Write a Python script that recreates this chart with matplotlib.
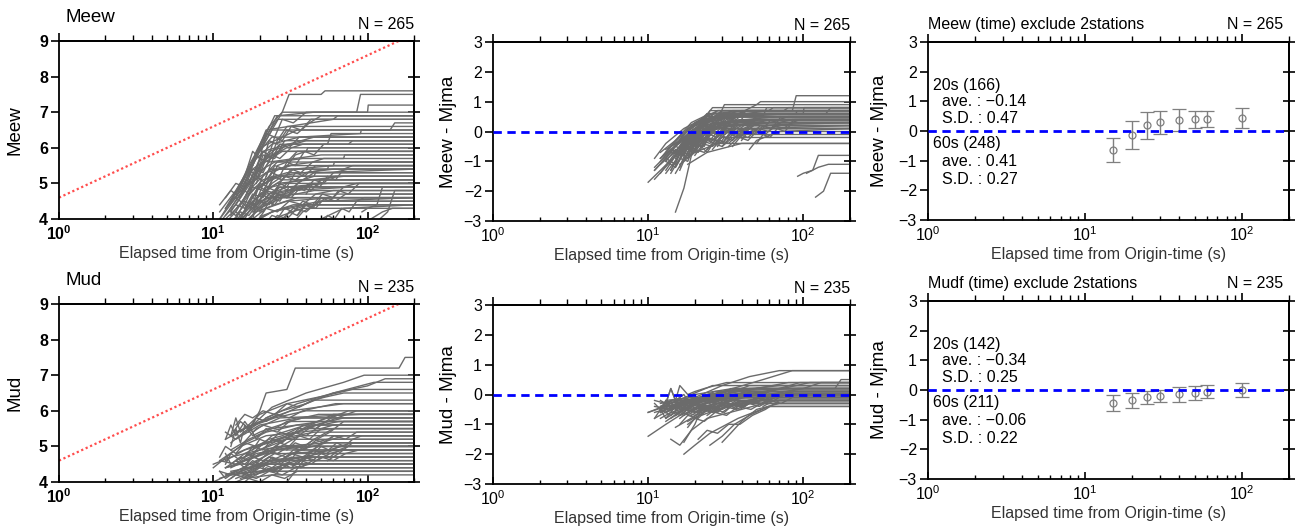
import math
import matplotlib
matplotlib.use('Agg')
import matplotlib.pyplot as plt
from matplotlib.ticker import MultipleLocator, NullFormatter, FuncFormatter

plt.rcParams['font.family'] = ['Liberation Sans', 'DejaVu Sans']
plt.rcParams['mathtext.fontset'] = 'custom'
plt.rcParams['mathtext.rm'] = 'Liberation Sans'
plt.rcParams['mathtext.bf'] = 'Liberation Sans:bold'

# red reference line on the magnitude panels
ref_t = [1, 200]
ref_m = [4.6, 9.2]

# Meew: Mjma of each event, elapsed times (s) and Meew values
meew_mjma = [6.6, 6.3, 6.3, 6.1, 6.0, 5.9, 5.8, 5.7, 5.6, 5.5,
             5.4, 5.4, 5.3, 5.2, 5.2, 5.1, 5.0, 5.0, 4.9, 4.9,
             4.8, 4.8, 4.7, 4.7, 4.6, 4.6, 4.5, 4.5, 4.4, 4.4,
             4.3, 4.3, 4.2, 4.2, 4.1, 4.0, 6.2, 5.6, 5.3, 4.9,
             4.6, 5.8, 5.1, 4.4, 4.3, 5.7, 6.2, 5.4, 5.0, 5.3,
             5.5, 5.2, 4.9, 5.8, 6.0, 4.7, 5.1, 4.5, 5.6, 5.3,
             4.8, 5.0, 4.6, 5.4, 6.4, 4.3, 4.4, 5.7, 4.9, 5.2,
             4.6, 5.0, 4.2, 5.9, 5.3, 4.8, 5.5, 6.1, 4.5, 5.1]
meew_t = [
    [20, 24, 28, 31, 50, 53, 200],
    [18, 22, 26, 45, 85, 90, 200],
    [16, 19, 23, 28, 200],
    [15, 18, 22, 60, 64, 200],
    [14, 17, 21, 26, 200],
    [17, 20, 24, 140, 150, 200],
    [13, 16, 20, 35, 200],
    [12, 15, 19, 24, 200],
    [19, 22, 27, 55, 58, 200],
    [16, 19, 23, 40, 200],
    [14, 18, 22, 30, 200],
    [22, 25, 30, 75, 80, 200],
    [11, 14, 18, 26, 200],
    [15, 18, 23, 50, 200],
    [13, 16, 20, 28, 200],
    [18, 21, 26, 38, 200],
    [12, 15, 19, 25, 200],
    [20, 24, 30, 45, 200],
    [14, 17, 22, 32, 200],
    [11, 13, 17, 24, 200],
    [16, 19, 25, 60, 200],
    [13, 16, 21, 30, 200],
    [17, 20, 26, 70, 200],
    [12, 15, 19, 27, 200],
    [15, 18, 24, 36, 200],
    [19, 23, 30, 55, 200],
    [14, 17, 22, 40, 200],
    [21, 25, 32, 80, 200],
    [16, 20, 26, 45, 200],
    [13, 16, 20, 28, 200],
    [18, 22, 30, 60, 200],
    [15, 19, 25, 35, 200],
    [17, 21, 28, 50, 200],
    [20, 24, 33, 200],
    [14, 18, 24, 40, 200],
    [23, 28, 38, 200],
    [15, 18, 21, 25, 200],
    [13, 17, 21, 45, 200],
    [15, 17, 19, 23, 200],
    [10, 12, 15, 20, 28, 200],
    [12, 14, 17, 22, 200],
    [11, 14, 18, 24, 36, 200],
    [30, 35, 45, 200],
    [33, 38, 50, 200],
    [45, 50, 70, 200],
    [92, 100, 115, 125, 200],
    [120, 135, 150, 200],
    [105, 125, 145, 200],
    [16, 20, 28, 200],
    [18, 24, 40, 200],
    [13, 15, 17, 19, 22, 25, 29, 34, 40, 41, 200],
    [12, 14, 16, 18, 21, 24, 28, 33, 60, 61, 200],
    [14, 16, 18, 20, 23, 27, 31, 38, 45, 46, 200],
    [15, 17, 19, 21, 24, 27, 31, 36, 90, 91, 200],
    [17, 19, 21, 23, 26, 30, 35, 42, 50, 200],
    [13, 15, 17, 20, 23, 26, 30, 36, 48, 49, 200],
    [16, 18, 20, 22, 25, 29, 34, 40, 55, 56, 200],
    [15, 17, 19, 22, 26, 31, 38, 46, 60, 200],
    [12, 14, 16, 18, 21, 24, 27, 32, 38, 200],
    [18, 20, 22, 25, 28, 32, 37, 44, 52, 70, 71, 200],
    [20, 22, 25, 28, 32, 37, 43, 50, 62, 200],
    [24, 27, 30, 34, 39, 45, 52, 60, 75, 200],
    [26, 29, 33, 38, 44, 51, 60, 70, 85, 200],
    [14, 16, 18, 20, 23, 26, 30, 35, 200],
    [16, 18, 20, 22, 25, 28, 33, 40, 100, 101, 200],
    [16, 18, 21, 24, 28, 33, 40, 48, 200],
    [28, 31, 35, 40, 46, 53, 62, 72, 200],
    [11, 13, 15, 17, 19, 22, 25, 29, 200],
    [17, 19, 21, 24, 27, 31, 36, 42, 200],
    [13, 15, 17, 19, 22, 26, 30, 200],
    [35, 39, 44, 50, 57, 65, 75, 88, 200],
    [40, 44, 49, 55, 62, 70, 80, 200],
    [50, 55, 61, 68, 76, 85, 95, 200],
    [14, 16, 18, 20, 23, 26, 30, 200],
    [20, 22, 24, 27, 30, 34, 39, 46, 200],
    [12, 14, 16, 18, 20, 23, 27, 200],
    [22, 24, 27, 30, 34, 39, 45, 52, 200],
    [19, 21, 23, 25, 28, 32, 37, 43, 200],
    [18, 20, 23, 26, 30, 35, 41, 200],
    [11, 12, 14, 16, 18, 21, 24, 28, 200],
]
meew_m = [
    [5.9, 6.5, 7.0, 7.5, 7.5, 7.6, 7.6],
    [5.5, 6.3, 6.9, 7.0, 7.0, 7.5, 7.5],
    [5.0, 5.9, 6.6, 7.0, 7.0],
    [4.9, 5.6, 6.5, 6.8, 6.9, 6.9],
    [4.7, 5.5, 6.2, 6.8, 6.8],
    [5.3, 5.9, 6.5, 6.5, 6.7, 6.7],
    [4.5, 5.2, 6.0, 6.5, 6.5],
    [4.3, 5.0, 5.8, 6.3, 6.3],
    [5.0, 5.7, 6.1, 6.1, 6.4, 6.4],
    [4.6, 5.3, 5.9, 6.2, 6.2],
    [4.4, 5.1, 5.7, 6.0, 6.0],
    [5.2, 5.8, 6.1, 6.1, 6.2, 6.2],
    [4.0, 4.6, 5.4, 5.9, 5.9],
    [4.4, 5.0, 5.6, 5.8, 5.8],
    [4.3, 4.9, 5.5, 5.9, 5.9],
    [4.6, 5.2, 5.6, 5.7, 5.7],
    [4.1, 4.7, 5.3, 5.6, 5.6],
    [4.9, 5.3, 5.5, 5.6, 5.6],
    [4.2, 4.8, 5.3, 5.5, 5.5],
    [4.0, 4.5, 5.0, 5.4, 5.4],
    [4.3, 4.8, 5.2, 5.4, 5.4],
    [4.1, 4.6, 5.1, 5.3, 5.3],
    [4.3, 4.7, 5.0, 5.2, 5.2],
    [4.0, 4.4, 4.9, 5.2, 5.2],
    [4.1, 4.5, 4.9, 5.1, 5.1],
    [4.3, 4.7, 4.9, 5.0, 5.0],
    [3.9, 4.3, 4.7, 4.9, 4.9],
    [4.4, 4.7, 4.8, 4.9, 4.9],
    [3.9, 4.3, 4.6, 4.8, 4.8],
    [3.8, 4.1, 4.5, 4.7, 4.7],
    [4.0, 4.3, 4.5, 4.6, 4.6],
    [3.8, 4.2, 4.4, 4.6, 4.6],
    [3.8, 4.1, 4.3, 4.5, 4.5],
    [4.0, 4.2, 4.4, 4.4],
    [3.6, 3.9, 4.2, 4.4, 4.4],
    [3.9, 4.1, 4.3, 4.3],
    [4.8, 5.5, 6.2, 6.9, 6.9],
    [4.2, 5.0, 5.9, 6.3, 6.3],
    [2.6, 3.4, 4.5, 5.4, 5.4],
    [3.2, 3.6, 4.1, 4.7, 5.1, 5.1],
    [3.5, 3.8, 4.2, 4.6, 4.6],
    [4.2, 4.8, 5.6, 6.1, 6.3, 6.3],
    [4.6, 5.0, 5.3, 5.4],
    [3.9, 4.2, 4.5, 4.6],
    [3.7, 4.0, 4.3, 4.4],
    [4.2, 4.3, 4.4, 4.9, 4.9],
    [4.0, 4.2, 4.8, 4.8],
    [4.0, 4.2, 4.3, 4.3],
    [3.9, 4.3, 4.6, 4.6],
    [4.2, 4.6, 4.9, 4.9],
    [4.5, 4.9, 4.7, 5.2, 5.0, 5.5, 5.4, 5.8, 5.9, 6.0, 6.0],
    [4.3, 4.6, 4.4, 4.9, 4.8, 5.2, 5.1, 5.4, 5.5, 5.6, 5.6],
    [4.1, 4.4, 4.3, 4.7, 4.6, 4.9, 4.8, 5.1, 5.2, 5.3, 5.3],
    [4.9, 5.4, 5.2, 5.8, 5.7, 6.1, 6.0, 6.3, 6.4, 6.5, 6.5],
    [5.2, 5.8, 5.6, 6.2, 6.1, 6.5, 6.4, 6.7, 6.9, 6.9],
    [3.9, 4.2, 4.1, 4.5, 4.4, 4.7, 4.6, 4.9, 5.0, 5.1, 5.1],
    [4.2, 4.6, 4.5, 4.9, 4.8, 5.2, 5.1, 5.3, 5.4, 5.5, 5.5],
    [3.7, 4.0, 3.9, 4.3, 4.2, 4.5, 4.4, 4.7, 4.8, 4.8],
    [4.6, 5.0, 4.9, 5.4, 5.3, 5.8, 5.7, 6.0, 6.1, 6.1],
    [4.6, 4.9, 4.8, 5.2, 5.1, 5.4, 5.3, 5.6, 5.7, 5.7, 5.8, 5.8],
    [4.2, 4.5, 4.4, 4.7, 4.6, 4.9, 4.8, 5.1, 5.2, 5.2],
    [4.4, 4.7, 4.6, 4.9, 4.8, 5.1, 5.0, 5.3, 5.4, 5.4],
    [4.0, 4.3, 4.2, 4.5, 4.4, 4.7, 4.6, 4.9, 5.0, 5.0],
    [4.0, 4.5, 4.4, 5.0, 4.9, 5.5, 5.6, 5.9, 5.9],
    [5.2, 5.9, 5.7, 6.4, 6.3, 6.8, 6.7, 7.0, 7.0, 7.2, 7.2],
    [3.6, 3.9, 3.8, 4.1, 4.0, 4.3, 4.2, 4.5, 4.5],
    [3.9, 4.2, 4.1, 4.4, 4.3, 4.6, 4.5, 4.7, 4.7],
    [4.4, 4.8, 4.6, 5.3, 5.1, 5.8, 5.7, 6.2, 6.2],
    [3.9, 4.3, 4.2, 4.6, 4.5, 4.9, 4.8, 5.0, 5.0],
    [4.2, 4.0, 4.5, 4.4, 4.8, 4.7, 5.0, 5.0],
    [4.1, 4.4, 4.3, 4.6, 4.5, 4.8, 4.7, 5.0, 5.0],
    [4.7, 5.0, 4.9, 5.2, 5.1, 5.4, 5.5, 5.5],
    [3.8, 4.1, 4.0, 4.3, 4.2, 4.5, 4.6, 4.6],
    [4.6, 5.2, 5.0, 5.7, 5.6, 6.2, 6.6, 6.6],
    [4.5, 4.8, 4.6, 5.0, 4.9, 5.3, 5.2, 5.5, 5.5],
    [3.9, 4.2, 4.0, 4.4, 4.3, 4.7, 4.9, 4.9],
    [5.0, 5.3, 5.2, 5.6, 5.5, 5.9, 5.8, 6.1, 6.1],
    [5.4, 5.9, 5.8, 6.3, 6.2, 6.6, 6.5, 6.8, 6.8],
    [3.6, 3.9, 3.8, 4.1, 4.0, 4.3, 4.4, 4.4],
    [3.9, 4.1, 4.4, 4.3, 4.7, 4.6, 5.0, 5.2, 5.2],
]

# Mud: Mjma of each event, elapsed times (s) and Mud values
mud_mjma = [7.0, 6.6, 6.4, 6.2, 6.0, 5.9, 5.8, 5.7, 5.6, 5.5,
            5.4, 5.3, 5.2, 5.1, 5.1, 5.0, 5.0, 4.9, 4.9, 4.8,
            4.8, 4.7, 4.7, 4.6, 4.6, 4.5, 4.5, 4.4, 4.4, 4.6,
            5.8, 6.1, 6.3, 5.9, 5.6, 6.5, 5.2, 5.0, 4.7, 5.4,
            5.0, 5.2, 5.3, 5.6, 5.2, 5.0, 5.4, 4.9, 5.1, 4.8,
            5.5, 5.3, 4.6, 5.7, 6.0, 5.9, 4.7, 5.0, 4.5, 5.8,
            4.9, 5.1, 4.6, 6.1, 5.2, 4.8, 5.6, 6.3, 4.4, 5.5]
mud_t = [
    [17, 20, 22, 30, 34, 160, 175, 200],
    [18, 24, 40, 70, 95, 200],
    [15, 22, 35, 60, 110, 200],
    [16, 20, 30, 50, 80, 200],
    [13, 18, 28, 45, 200],
    [14, 20, 32, 70, 200],
    [12, 16, 25, 40, 200],
    [15, 19, 27, 90, 200],
    [12, 14, 20, 35, 200],
    [13, 17, 24, 50, 200],
    [11, 15, 22, 60, 200],
    [14, 18, 26, 45, 200],
    [12, 16, 23, 38, 200],
    [10, 13, 20, 30, 200],
    [16, 20, 28, 55, 200],
    [13, 18, 25, 42, 200],
    [11, 14, 19, 33, 200],
    [15, 21, 30, 70, 200],
    [12, 16, 22, 200],
    [14, 19, 27, 50, 200],
    [17, 22, 35, 200],
    [11, 15, 21, 40, 200],
    [13, 17, 24, 200],
    [15, 20, 30, 200],
    [12, 16, 23, 200],
    [14, 18, 28, 200],
    [11, 13, 20, 200],
    [13, 19, 200],
    [16, 24, 200],
    [10, 14, 19, 26, 200],
    [10, 13, 16, 22, 35, 200],
    [14, 16, 19, 24, 40, 65, 200],
    [17, 20, 25, 38, 60, 200],
    [25, 30, 36, 45, 60, 200],
    [30, 34, 40, 50, 70, 200],
    [22, 28, 40, 60, 100, 130, 200],
    [40, 48, 60, 200],
    [55, 65, 80, 200],
    [12, 15, 200],
    [18, 25, 33, 45, 200],
    [14, 20, 30, 45, 70, 200],
    [16, 22, 35, 55, 85, 200],
    [13, 14, 15, 16, 18, 20, 23, 27, 32, 200],
    [13, 14, 15, 17, 19, 22, 26, 31, 38, 200],
    [12, 14, 16, 18, 21, 25, 30, 36, 44, 54, 200],
    [15, 17, 20, 23, 27, 32, 38, 46, 56, 68, 200],
    [14, 16, 19, 22, 26, 31, 37, 45, 55, 200],
    [18, 21, 24, 28, 33, 39, 47, 57, 70, 200],
    [20, 23, 27, 32, 38, 45, 54, 65, 80, 200],
    [25, 28, 32, 37, 43, 50, 60, 72, 88, 200],
    [30, 34, 39, 45, 52, 61, 72, 85, 200],
    [12, 13, 15, 17, 20, 24, 29, 200],
    [11, 12, 14, 16, 19, 23, 200],
    [16, 18, 21, 24, 28, 33, 40, 50, 65, 200],
    [18, 20, 23, 27, 32, 38, 46, 58, 75, 200],
    [21, 24, 28, 33, 39, 47, 57, 70, 200],
    [13, 15, 17, 20, 24, 29, 35, 42, 200],
    [12, 13, 15, 17, 19, 22, 26, 200],
    [14, 16, 19, 23, 28, 34, 42, 200],
    [12, 13, 14, 16, 18, 21, 25, 30, 38, 48, 200],
    [35, 39, 44, 50, 57, 65, 75, 200],
    [45, 50, 56, 63, 71, 80, 92, 200],
    [15, 17, 20, 24, 29, 35, 200],
    [13, 15, 17, 19, 22, 26, 31, 38, 48, 62, 200],
    [16, 18, 20, 23, 27, 32, 38, 200],
    [19, 22, 26, 31, 37, 44, 200],
    [24, 27, 31, 36, 42, 50, 60, 200],
    [14, 16, 18, 21, 25, 30, 36, 44, 55, 70, 200],
    [12, 14, 17, 21, 26, 200],
    [11, 12, 14, 16, 19, 23, 28, 35, 200],
]
mud_m = [
    [5.4, 6.0, 6.5, 6.6, 7.2, 7.2, 7.5, 7.5],
    [5.6, 6.1, 6.5, 6.8, 7.0, 7.0],
    [5.3, 5.8, 6.2, 6.5, 6.8, 6.8],
    [5.5, 5.9, 6.2, 6.4, 6.6, 6.6],
    [5.1, 5.6, 5.9, 6.3, 6.3],
    [5.4, 5.7, 6.0, 6.2, 6.2],
    [5.2, 5.5, 5.8, 6.0, 6.0],
    [5.0, 5.5, 5.8, 5.9, 5.9],
    [5.4, 5.2, 5.6, 5.8, 5.8],
    [4.9, 5.2, 5.5, 5.7, 5.7],
    [4.6, 5.0, 5.3, 5.5, 5.5],
    [4.8, 5.0, 5.2, 5.4, 5.4],
    [4.6, 4.9, 5.1, 5.3, 5.3],
    [4.5, 4.7, 4.9, 5.2, 5.2],
    [4.7, 4.9, 5.0, 5.1, 5.1],
    [4.4, 4.7, 4.9, 5.0, 5.0],
    [4.6, 4.5, 4.8, 5.0, 5.0],
    [4.3, 4.5, 4.8, 4.9, 4.9],
    [4.4, 4.6, 4.8, 4.8],
    [4.2, 4.4, 4.6, 4.8, 4.8],
    [4.4, 4.6, 4.7, 4.7],
    [4.1, 4.3, 4.5, 4.7, 4.7],
    [4.3, 4.4, 4.6, 4.6],
    [4.1, 4.3, 4.5, 4.5],
    [4.2, 4.4, 4.5, 4.5],
    [4.0, 4.2, 4.4, 4.4],
    [4.3, 4.2, 4.3, 4.3],
    [4.2, 4.3, 4.3],
    [4.1, 4.2, 4.2],
    [4.0, 4.3, 4.6, 4.9, 4.9],
    [4.4, 4.8, 5.1, 5.4, 5.6, 5.6],
    [4.6, 4.4, 4.9, 5.3, 5.6, 5.9, 5.9],
    [4.3, 4.6, 5.0, 5.5, 5.9, 5.9],
    [4.2, 4.5, 4.9, 5.2, 5.5, 5.5],
    [4.0, 4.3, 4.7, 5.1, 5.3, 5.3],
    [5.8, 6.0, 6.2, 6.5, 6.7, 6.9, 6.9],
    [4.8, 5.0, 5.3, 5.3],
    [4.6, 4.8, 5.1, 5.1],
    [4.4, 4.5, 4.5],
    [4.5, 4.9, 5.2, 5.6, 5.6],
    [4.6, 4.9, 5.3, 5.6, 5.8, 5.8],
    [4.8, 5.1, 5.4, 5.7, 6.0, 6.0],
    [5.0, 5.5, 5.1, 5.6, 5.3, 5.4, 5.5, 5.6, 5.7, 5.7],
    [5.3, 5.8, 5.4, 5.6, 5.2, 5.5, 5.4, 5.7, 5.8, 5.8],
    [4.4, 4.6, 4.5, 4.7, 4.6, 4.8, 4.7, 4.9, 5.0, 5.1, 5.1],
    [4.3, 4.5, 4.4, 4.6, 4.5, 4.7, 4.6, 4.8, 4.9, 5.0, 5.0],
    [4.6, 4.8, 4.7, 4.9, 4.8, 5.0, 4.9, 5.1, 5.2, 5.2],
    [4.3, 4.5, 4.4, 4.6, 4.5, 4.7, 4.6, 4.8, 4.9, 4.9],
    [4.5, 4.7, 4.6, 4.8, 4.7, 4.9, 4.8, 5.0, 5.1, 5.1],
    [4.3, 4.5, 4.4, 4.6, 4.5, 4.7, 4.6, 4.8, 4.9, 4.9],
    [4.9, 5.1, 5.0, 5.2, 5.1, 5.3, 5.2, 5.4, 5.4],
    [4.8, 4.5, 4.7, 4.6, 4.8, 4.9, 5.0, 5.0],
    [4.3, 4.1, 4.3, 4.2, 4.4, 4.5, 4.5],
    [4.7, 5.0, 4.9, 5.2, 5.1, 5.4, 5.3, 5.6, 5.7, 5.7],
    [4.9, 5.2, 5.1, 5.4, 5.3, 5.6, 5.5, 5.8, 6.0, 6.0],
    [4.4, 4.7, 4.6, 4.9, 4.9, 5.2, 5.4, 5.7, 5.7],
    [4.1, 4.3, 4.2, 4.4, 4.3, 4.5, 4.6, 4.7, 4.7],
    [4.5, 4.8, 4.6, 4.8, 4.7, 4.9, 5.0, 5.0],
    [4.1, 4.2, 4.1, 4.3, 4.2, 4.4, 4.5, 4.5],
    [5.2, 5.6, 5.3, 5.7, 5.4, 5.6, 5.5, 5.7, 5.8, 5.9, 5.9],
    [4.5, 4.7, 4.6, 4.8, 4.7, 4.9, 5.0, 5.0],
    [4.8, 5.0, 4.9, 5.1, 5.0, 5.2, 5.3, 5.3],
    [3.9, 4.1, 4.0, 4.2, 4.1, 4.3, 4.3],
    [5.3, 5.7, 5.5, 5.8, 5.7, 5.9, 5.8, 6.0, 6.1, 6.2, 6.2],
    [4.4, 4.6, 4.5, 4.7, 4.6, 4.8, 4.9, 4.9],
    [4.2, 4.4, 4.3, 4.5, 4.4, 4.6, 4.6],
    [4.9, 5.1, 5.0, 5.3, 5.2, 5.5, 5.6, 5.6],
    [5.6, 5.9, 5.8, 6.0, 5.9, 6.2, 6.1, 6.3, 6.4, 6.5, 6.5],
    [4.0, 4.2, 4.1, 4.3, 4.4, 4.4],
    [4.7, 5.0, 4.8, 5.1, 5.0, 5.2, 5.3, 5.5, 5.5],
]

# average and S.D. of (M - Mjma) at each elapsed time window
win_t = [15, 20, 25, 30, 40, 50, 60, 100]
meew_ave = [-0.64, -0.14, 0.19, 0.29, 0.37, 0.40, 0.41, 0.44]
meew_sd = [0.41, 0.47, 0.46, 0.39, 0.37, 0.29, 0.27, 0.33]
mud_ave = [-0.44, -0.34, -0.25, -0.21, -0.15, -0.10, -0.06, 0.0]
mud_sd = [0.27, 0.25, 0.21, 0.21, 0.24, 0.24, 0.22, 0.23]

meew_stats = ['20s (166)', '  ave. : \u22120.14', '  S.D. : 0.47',
              '60s (248)', '  ave. : 0.41', '  S.D. : 0.27']
mud_stats = ['20s (142)', '  ave. : \u22120.34', '  S.D. : 0.25',
             '60s (211)', '  ave. : \u22120.06', '  S.D. : 0.22']
stats_y = [1.55, 0.99, 0.43, -0.42, -1.04, -1.62]

GREY = '#6b6b6b'
W, H = 1299, 532


def px_rect(x0, y0, x1, y1):
    return [x0 / W, 1 - y1 / H, (x1 - x0) / W, (y1 - y0) / H]


def bold_log(v, pos):
    return r'$\mathbf{10^{%d}}$' % round(math.log10(v))


def reg_log(v, pos):
    return r'$\mathregular{10^{%d}}$' % round(math.log10(v))


def style(ax, ylim, ylabel, bold=False):
    ax.set_xscale('log')
    ax.set_xlim(1, 200)
    ax.set_ylim(*ylim)
    ax.yaxis.set_major_locator(MultipleLocator(1))
    ax.xaxis.set_major_formatter(FuncFormatter(bold_log if bold else reg_log))
    ax.xaxis.set_minor_formatter(NullFormatter())
    ax.tick_params(axis='x', which='major', direction='in', length=5, width=1.2,
                   labelsize=11.5, pad=4)
    ax.tick_params(axis='x', which='minor', direction='in', length=3, width=1.0)
    ax.tick_params(axis='y', direction='out', length=6, width=1.2, labelsize=11.5, pad=2)
    if bold:
        for lb in ax.get_yticklabels():
            lb.set_fontweight('bold')
    top = ax.secondary_xaxis('top')
    top.xaxis.set_major_formatter(NullFormatter())
    top.xaxis.set_minor_formatter(NullFormatter())
    top.tick_params(which='major', direction='out', length=6, width=1.2)
    top.tick_params(which='minor', direction='out', length=4, width=1.0)
    right = ax.secondary_yaxis('right')
    right.yaxis.set_major_locator(MultipleLocator(1))
    right.yaxis.set_major_formatter(NullFormatter())
    right.tick_params(direction='inout', length=8, width=1.2)
    for a in (ax, top, right):
        for s in a.spines.values():
            s.set_linewidth(1.3)
    ax.set_xlabel('Elapsed time from Origin-time (s)', fontsize=11.5, labelpad=2,
                  color='#333333')
    ax.set_ylabel(ylabel, fontsize=13.5)


fig = plt.figure(figsize=(W / 100, H / 100), dpi=100)

rows = [
    ('Meew', meew_mjma, meew_t, meew_m, 'N = 265', meew_ave, meew_sd, meew_stats,
     'Meew (time) exclude 2stations', 41, 219, 42, 220),
    ('Mud', mud_mjma, mud_t, mud_m, 'N = 235', mud_ave, mud_sd, mud_stats,
     'Mudf (time) exclude 2stations', 304, 482, 301, 479),
]

for name, mjma, ts, ms, ntext, ave, sd, stats, rtitle, y0, y1, ry0, ry1 in rows:
    # magnitude vs time
    ax1 = fig.add_axes(px_rect(59, y0, 414, y1))
    for t, m in zip(ts, ms):
        ax1.plot(t, m, color=GREY, lw=1.0)
    ax1.plot(ref_t, ref_m, color='#ff4d4d', lw=1.6, ls=(0, (1, 1.2)))
    style(ax1, (4, 9), name, bold=True)
    ax1.yaxis.set_label_coords(-0.10, 0.5)
    ax1.text(0.017, 1.105, name, transform=ax1.transAxes, fontsize=13.5,
             ha='left', va='baseline')
    ax1.text(1.0, 1.065, ntext, transform=ax1.transAxes, fontsize=11.5,
             ha='right', va='baseline')

    # difference from Mjma vs time
    ax2 = fig.add_axes(px_rect(493, y0 + 1, 850, y1 + 2))
    for t, m, mj in zip(ts, ms, mjma):
        ax2.plot(t, [v - mj for v in m], color=GREY, lw=1.0)
    ax2.axhline(0, color='#0000ff', lw=2.0, ls=(0, (3, 2)), zorder=5)
    style(ax2, (-3, 3), name + ' - Mjma')
    ax2.yaxis.set_label_coords(-0.10, 0.5)
    ax2.text(1.0, 1.065, ntext, transform=ax2.transAxes, fontsize=11.5,
             ha='right', va='baseline')

    # averages with S.D. error bars
    ax3 = fig.add_axes(px_rect(928, ry0, 1289, ry1))
    ax3.errorbar(win_t, ave, yerr=sd, fmt='o', color='#7f7f7f', mfc='none',
                 ms=5, mew=0.9, elinewidth=1.0, capsize=5, capthick=1.0)
    ax3.axhline(0, color='#0000ff', lw=2.0, ls=(0, (3, 2)), zorder=5)
    style(ax3, (-3, 3), name + ' - Mjma')
    ax3.yaxis.set_label_coords(-0.11, 0.5)
    for s, yv in zip(stats, stats_y):
        ax3.text(0.014, yv, s, fontsize=11.5, ha='left', va='center',
                 transform=ax3.get_yaxis_transform())
    ax3.text(0.0, 1.075, rtitle, transform=ax3.transAxes, fontsize=11.5,
             ha='left', va='baseline')
    ax3.text(0.985, 1.075, ntext, transform=ax3.transAxes, fontsize=11.5,
             ha='right', va='baseline')

fig.savefig('out.png', dpi=100)
